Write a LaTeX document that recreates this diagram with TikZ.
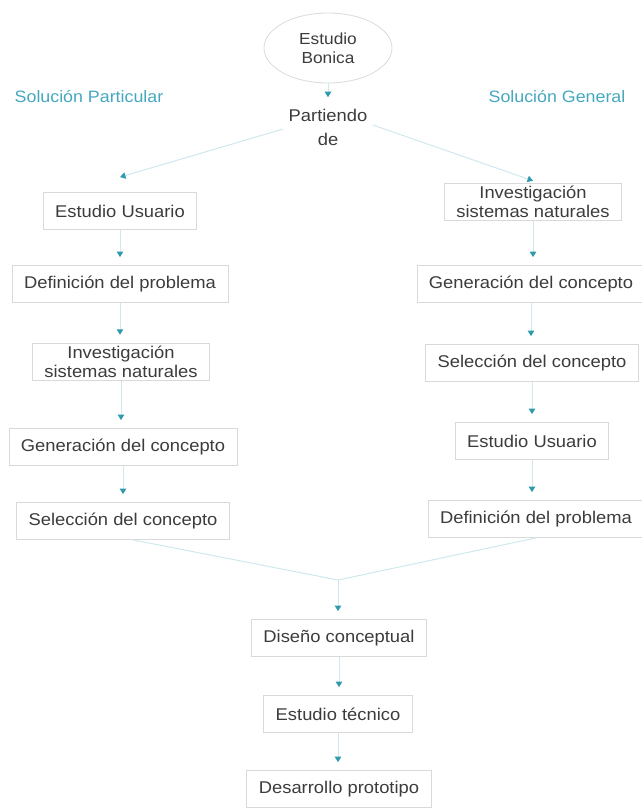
\documentclass[tikz,border=0pt]{standalone}
\usepackage{fontspec}
\setmainfont{Liberation Sans}[FakeStretch=1.08]
\usetikzlibrary{arrows.meta,shapes.geometric}
\definecolor{txt}{HTML}{3c3c3c}
\definecolor{frame}{HTML}{d9d9d9}
\definecolor{wire}{HTML}{cfe8ee}
\definecolor{tip}{HTML}{2f9aae}
\definecolor{side}{HTML}{45a8bf}

\begin{document}
\begin{tikzpicture}[x=1pt,y=-1pt,
  box/.style={draw=frame,line width=0.8pt,fill=white,text=txt,align=center,
    font=\fontsize{17}{19}\selectfont,inner xsep=12pt,inner ysep=3pt,minimum height=37pt},
  oval/.style={ellipse,draw=frame,line width=0.8pt,text=txt,align=center,
    font=\fontsize{16}{19}\selectfont,minimum width=128pt,minimum height=70pt,inner sep=0pt},
  lbl/.style={text=side,font=\fontsize{16.5}{19}\selectfont},
  link/.style={wire,line width=1pt},
  flow/.style={link,-{Triangle[length=5.5pt,width=6.5pt,color=tip]}}]
  \useasboundingbox (0,0) rectangle (642,808);
  % top
  \node[oval] (bon) at (328,48) {Estudio\\Bonica};
  \node[text=txt,align=center,font=\fontsize{17}{24}\selectfont] (part) at (328,127) {Partiendo\\de};
  \node[lbl] (sp) at (89,97) {Solución Particular};
  \node[lbl] (sg) at (557,97) {Solución General};
  % left column
  \node[box] (eu1) at (120,211) {Estudio Usuario};
  \node[box] (dp1) at (120,284) {Definición del problema};
  \node[box] (is1) at (121,362) {Investigación\\sistemas naturales};
  \node[box] (gc1) at (123,447) {Generación del concepto};
  \node[box] (sc1) at (123,521) {Selección del concepto};
  % right column
  \node[box] (is2) at (533,202) {Investigación\\sistemas naturales};
  \node[box] (gc2) at (531,284) {Generación del concepto};
  \node[box] (sc2) at (532,363) {Selección del concepto};
  \node[box] (eu2) at (532,441) {Estudio Usuario};
  \node[box] (dp2) at (536,519) {Definición del problema};
  % common part
  \coordinate (mg) at (338,580);
  \node[box] (dc) at (339,638) {Diseño conceptual};
  \node[box] (et) at (338,714) {Estudio técnico};
  \node[box] (dpr) at (339,789) {Desarrollo prototipo};
  % connectors
  \draw[flow,shorten >=8pt] (bon) -- (part);
  \draw[flow] ([xshift=-2pt,yshift=-2pt]part.west) -- ([yshift=15pt]eu1.north);
  \draw[flow] ([xshift=2pt,yshift=2pt]part.east) -- ([yshift=2pt]is2.north);
  \foreach \a/\b in {eu1/dp1,dp1/is1,is1/gc1,gc1/sc1,is2/gc2,gc2/sc2,sc2/eu2,eu2/dp2,dc/et,et/dpr}
    \draw[flow,shorten >=8pt] (\a.south) -- (\a.south |- \b.north);
  \draw[link] ([xshift=10pt]sc1.south) -- (mg);
  \draw[link] (dp2.south) -- (mg);
  \draw[flow,shorten >=8pt] (mg) -- (mg |- dc.north);
\end{tikzpicture}
\end{document}
